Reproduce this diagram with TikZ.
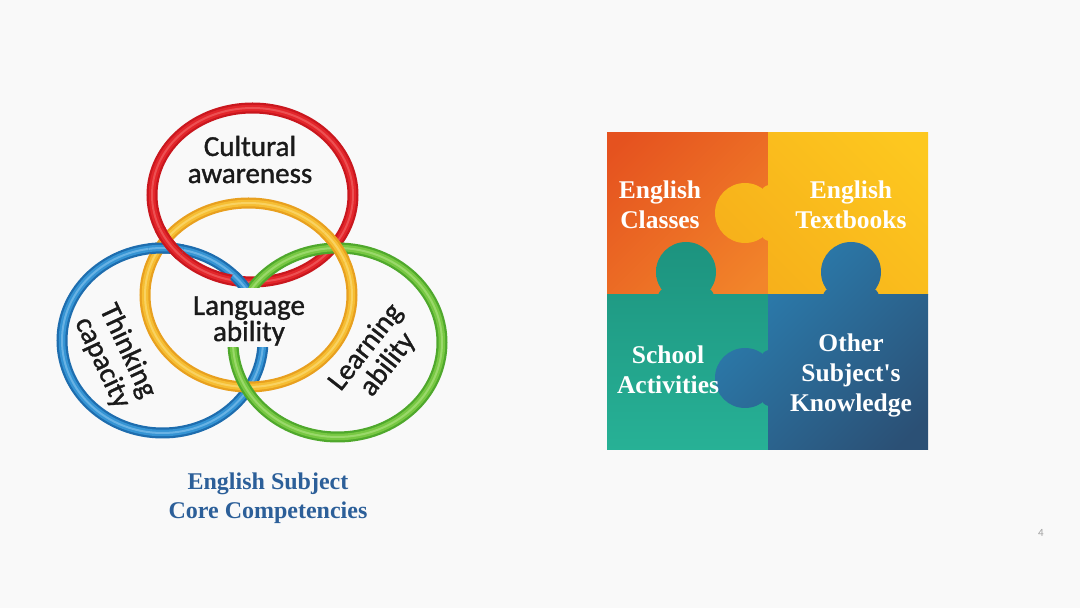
\documentclass[tikz,border=0pt]{standalone}
\usepackage{fontspec}
\setmainfont{Liberation Serif}[Ligatures=TeXOff]
\newfontfamily\carlito{Carlito}[FakeBold=1.2]
\newfontfamily\carlitoplain{Carlito}
\definecolor{bgcol}{HTML}{F9F9F9}
\definecolor{rdA}{HTML}{C9171E}
\definecolor{rdB}{HTML}{E3262B}
\definecolor{rdC}{HTML}{F06363}
\definecolor{ylA}{HTML}{E8A01F}
\definecolor{ylB}{HTML}{F6BE33}
\definecolor{ylC}{HTML}{FBDB75}
\definecolor{blA}{HTML}{1E6DAE}
\definecolor{blB}{HTML}{3594D4}
\definecolor{blC}{HTML}{7FC0EB}
\definecolor{grA}{HTML}{4FA82C}
\definecolor{grB}{HTML}{77C842}
\definecolor{grC}{HTML}{A9E07C}
\definecolor{pzoA}{HTML}{E5521F}
\definecolor{pzoB}{HTML}{F2852A}
\definecolor{pzyA}{HTML}{FDC81F}
\definecolor{pzyB}{HTML}{F6AE1A}
\definecolor{pztA}{HTML}{1C917D}
\definecolor{pztB}{HTML}{28B498}
\definecolor{pzbA}{HTML}{2B82B5}
\definecolor{pzbB}{HTML}{2B5075}
\definecolor{ringtext}{HTML}{1A1A1A}
\definecolor{capblue}{HTML}{2C5F99}
\definecolor{pagegray}{HTML}{A0A0A0}
\newcommand\ringdraw[4]{%
  \draw[line width=11pt,#4A] #1 ellipse[x radius=#2,y radius=#3];
  \draw[line width=6.5pt,#4B] #1 ellipse[x radius=#2,y radius=#3];
  \draw[line width=2pt,#4C,opacity=.7] #1 ellipse[x radius=#2,y radius=#3];
}
\newcommand\ringR{\ringdraw{(252.5,413)}{100.5}{87}{rd}}
\newcommand\ringY{\ringdraw{(248.5,313)}{103.5}{92}{yl}}
\newcommand\ringB{\ringdraw{(162.5,267.5)}{100.5}{92.5}{bl}}
\newcommand\ringG{\ringdraw{(337.5,265.5)}{104.5}{94.5}{gr}}
\newcommand\pzknob[4]{%
  \begin{scope}
    \clip[shift={#1},rotate=#2] (23,0) circle[radius=30];
    \shade[#3] #4;
  \end{scope}
  \begin{scope}
    \clip[shift={#1},rotate=#2] (-2,28.5) .. controls (1.5,28.5) and (3,26) .. (5,25)
      -- (5,-25) .. controls (3,-26) and (1.5,-28.5) .. (-2,-28.5) -- cycle;
    \shade[#3] #4;
  \end{scope}
}
\tikzset{
  ringlbl/.style={font=\carlito\fontsize{29}{27}\selectfont, align=center, inner sep=0pt, text=ringtext},
  ringrot/.style={ringlbl, font=\carlito\fontsize{29}{28}\selectfont},
  pztext/.style={font=\bfseries\fontsize{25.5}{30}\selectfont, align=center, inner sep=0pt, text=white},
  captext/.style={font=\bfseries\fontsize{24}{29}\selectfont, align=center, inner sep=0pt, text=capblue},
  pagenum/.style={font=\carlitoplain\fontsize{11}{13}\selectfont, inner sep=0pt, text=pagegray},
  pzorange/.style={top color=pzoA, bottom color=pzoB, shading angle=45},
  pzyellow/.style={top color=pzyA, bottom color=pzyB, shading angle=-45},
  pzteal/.style={top color=pztA, bottom color=pztB},
  pzblue/.style={top color=pzbA, bottom color=pzbB, shading angle=45}
}
\begin{document}
\begin{tikzpicture}[x=1pt,y=1pt]
\useasboundingbox (0,0) rectangle (1080,608);
\fill[bgcol] (0,0) rectangle (1080,608);
% rings
\ringB
\ringR
\ringY
\ringG
\begin{scope}\clip (166,363) circle[radius=18]; \ringB \ringR \end{scope}
\begin{scope}\clip (240,326) circle[radius=10]; \ringB \end{scope}
\begin{scope}\clip (335,361) circle[radius=18]; \ringY \end{scope}
\fill[bgcol] (190,261) rectangle (307,320);
\node[ringlbl] (cult) at (250,448.5) {Cultural\\awareness};
\node[ringlbl, font=\carlito\fontsize{29}{25}\selectfont] (lang) at (249,287) {Language\\ability};
\node[ringrot, rotate=-65] (think) at (115,251) {Thinking\\capacity};
\node[ringrot, rotate=52] (learn) at (377,252) {Learning\\ability};
\node[captext] (caption) at (268,110) {English Subject\\Core Competencies};
% puzzle
\begin{scope}\clip (607,313) rectangle (768,475); \shade[pzorange] (587,293) rectangle (788,495); \end{scope}
\begin{scope}\clip (768,313) rectangle (928,475); \shade[pzyellow] (700,293) rectangle (948,495); \end{scope}
\begin{scope}\clip (607,158) rectangle (768,313); \shade[pzteal] (587,138) rectangle (788,380); \end{scope}
\begin{scope}\clip (768,158) rectangle (928,313); \shade[pzblue] (700,138) rectangle (948,380); \end{scope}
\pzknob{(768,395)}{180}{pzyellow}{(700,293) rectangle (948,495)}
\pzknob{(686,313)}{90}{pzteal}{(587,138) rectangle (788,380)}
\pzknob{(851,313)}{90}{pzblue}{(700,138) rectangle (948,380)}
\pzknob{(768,230)}{180}{pzblue}{(700,138) rectangle (948,380)}
\node[pztext] (classes) at (660,403.5) {English\\Classes};
\node[pztext] (books) at (851,403.5) {English\\Textbooks};
\node[pztext] (school) at (668,238.5) {School\\Activities};
\node[pztext] (other) at (851,233) {Other\\Subject's\\Knowledge};
\node[pagenum] (page) at (1041,75) {4};
\end{tikzpicture}
\end{document}
